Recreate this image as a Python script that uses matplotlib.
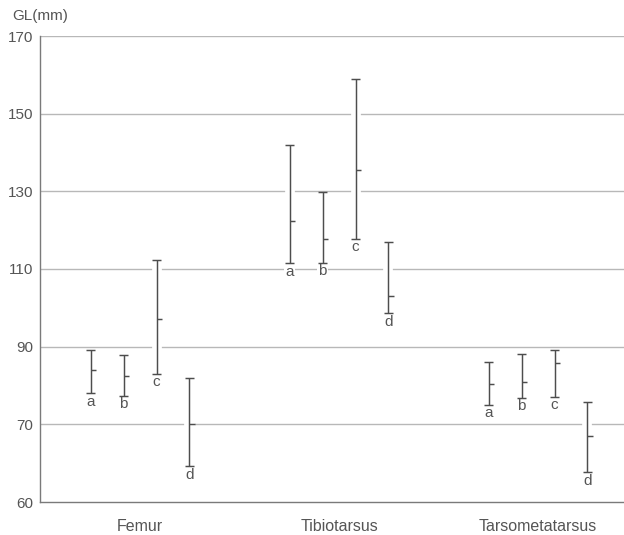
import numpy as np
import matplotlib
matplotlib.use("Agg")
import matplotlib.pyplot as plt

# ---- data ----
categories = ["Femur", "Tibiotarsus", "Tarsometatarsus"]
groups = ["a", "b", "c", "d"]
femur_max = [89.2, 87.9, 112.3, 82.0]
femur_min = [78.0, 77.3, 83.0, 64.6]
femur_mean = [84.0, 82.5, 97.1, 70.0]
tibio_max = [141.9, 129.7, 158.9, 116.9]
tibio_min = [111.5, 111.6, 117.7, 98.6]
tibio_mean = [122.4, 117.8, 135.5, 103.1]
tarso_max = [86.1, 88.0, 89.1, 75.8]
tarso_min = [75.1, 76.9, 77.1, 63.8]
tarso_mean = [80.4, 80.8, 85.9, 68.5]
yticks = [60, 70, 90, 110, 130, 150, 170]

maxs = [femur_max, tibio_max, tarso_max]
mins = [femur_min, tibio_min, tarso_min]
means = [femur_mean, tibio_mean, tarso_mean]

plt.rcParams['font.family'] = ['Liberation Sans', 'DejaVu Sans']
TXT = '#555555'
BAR = '#4d4d4d'
GRID = '#b8b8b8'

fig = plt.figure(figsize=(6.24, 5.35), dpi=100)
ax = fig.add_axes([40/624, 33/535, 584/624, 466/535])

# broken-style axis: segment 60-70 drawn at double scale
def fwd(y):
    y = np.asarray(y, dtype=float)
    return np.where(y < 70, 70 - 2*(70 - y), y)

def inv(t):
    t = np.asarray(t, dtype=float)
    return np.where(t < 70, 70 - (70 - t)/2, t)

ax.set_yscale('function', functions=(fwd, inv))
ax.set_ylim(60, 170)
ax.set_xlim(-0.503, 2.432)

for y in yticks[1:]:
    ax.axhline(y, color=GRID, lw=1.0, zorder=1)

step = 0.1655
capw = 0.024
tick = 0.027
for gi in range(len(categories)):
    for j, g in enumerate(groups):
        x = gi + (j - 1.5) * step
        lo, hi, mu = mins[gi][j], maxs[gi][j], means[gi][j]
        # white halo breaking the grid lines
        ax.vlines(x, lo, hi, color='white', lw=7, zorder=2)
        ax.hlines(mu, x, x + tick, color='white', lw=7, zorder=2)
        # range bar
        ax.vlines(x, lo, hi, color=BAR, lw=1.05, zorder=3)
        ax.hlines([lo, hi], x - capw, x + capw, color=BAR, lw=1.05, zorder=3)
        ax.hlines(mu, x, x + tick, color=BAR, lw=1.05, zorder=3)
        ax.annotate(g, (x, lo), xytext=(0, -1), textcoords='offset points',
                    ha='center', va='top', fontsize=11, color=TXT, zorder=2.5,
                    bbox=dict(facecolor='white', edgecolor='none', pad=0.8))

ax.set_yticks(yticks)
ax.set_yticklabels([str(v) for v in yticks])
ax.set_xticks(range(len(categories)))
ax.set_xticklabels(categories)
ax.tick_params(axis='y', length=0, pad=4.8, labelsize=11, labelcolor=TXT)
ax.tick_params(axis='x', length=0, pad=12, labelsize=11.5, labelcolor=TXT)
ax.minorticks_off()
for s in ['top', 'right']:
    ax.spines[s].set_visible(False)
for s in ['left', 'bottom']:
    ax.spines[s].set_color('#7a7a7a')
    ax.spines[s].set_linewidth(1.0)

fig.text(12/624, 1 - 16/535, "GL(mm)", fontsize=11, color=TXT, ha='left', va='center')

fig.savefig("out.png", dpi=100, facecolor='white')
